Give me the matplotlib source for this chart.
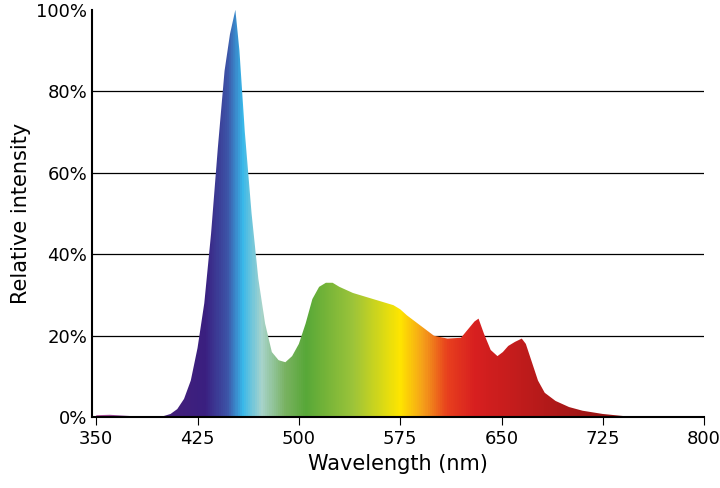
import numpy as np
import matplotlib
matplotlib.use("Agg")
import matplotlib.pyplot as plt
from matplotlib.colors import LinearSegmentedColormap
from matplotlib.patches import Polygon

wavelength = [350, 360, 375, 380, 400, 405, 410, 415, 420, 425, 430, 435, 440, 445, 449, 453, 456, 460, 465, 470,
              475, 480, 485, 490, 495, 500, 505, 510, 515, 520, 525, 530, 540, 550, 560, 570, 575, 580,
              590, 600, 610, 620, 625, 630, 633, 637, 642, 647, 651, 655, 660, 665, 668, 672, 677, 682,
              690, 700, 710, 725, 740, 750]
intensity = [0.5, 0.6, 0.3, 0, 0.3, 0.8, 2, 4.5, 9, 17, 28, 45, 66, 85, 94, 100, 90, 70, 50, 34,
             23, 16, 14, 13.5, 15, 18, 23, 29, 32, 33, 33, 32, 30.5, 29.5, 28.5, 27.5, 26.5, 25,
             22.5, 20, 19.3, 19.5, 21.5, 23.5, 24.2, 20.5, 16.5, 15, 16, 17.5, 18.5, 19.3, 18, 14, 9, 6,
             4, 2.5, 1.6, 0.8, 0.3, 0]
xticks = [350, 425, 500, 575, 650, 725, 800]
yticks = [0, 20, 40, 60, 80, 100]

stops = [(350, "#b0509a"), (400, "#45207a"), (430, "#3a1f80"), (447, "#3d55a8"), (458, "#38b8ea"),
         (472, "#a8d4cc"), (490, "#78b260"), (505, "#58a838"), (540, "#9cc43a"), (575, "#ffe600"),
         (592, "#f5a01a"), (610, "#e8401e"), (630, "#d82020"), (700, "#a81818"), (750, "#8a1010")]
cmap = LinearSegmentedColormap.from_list("spec", [((w - 350) / 400, c) for w, c in stops])

fig = plt.figure(figsize=(7.2, 4.88), dpi=100)
ax = fig.add_axes([0.128, 0.145, 0.85, 0.835])
ax.set_xlim(347, 800)
ax.set_ylim(0, 100)

for y in yticks[1:-1]:
    ax.axhline(y, color="black", lw=0.9, zorder=1)

grad = np.linspace(0, 1, 800).reshape(1, -1)
im = ax.imshow(grad, extent=[350, 750, 0, 100], aspect="auto", cmap=cmap, zorder=2)
poly = Polygon(list(zip(wavelength, intensity)) + [(750, 0), (350, 0)], closed=True,
               transform=ax.transData, facecolor="none", edgecolor="none")
ax.add_patch(poly)
im.set_clip_path(poly)

ax.set_xticks(xticks)
ax.set_yticks(yticks)
ax.set_yticklabels([f"{v}%" for v in yticks])
ax.tick_params(axis="y", length=0, labelsize=13)
ax.tick_params(axis="x", length=6, labelsize=13, direction="out")
for s in ["top", "right"]:
    ax.spines[s].set_visible(False)
ax.spines["left"].set_linewidth(1.5)
ax.spines["bottom"].set_linewidth(1.5)
ax.set_xlabel("Wavelength (nm)", fontsize=15)
ax.set_ylabel("Relative intensity", fontsize=15)
fig.savefig("out.png", dpi=100)
